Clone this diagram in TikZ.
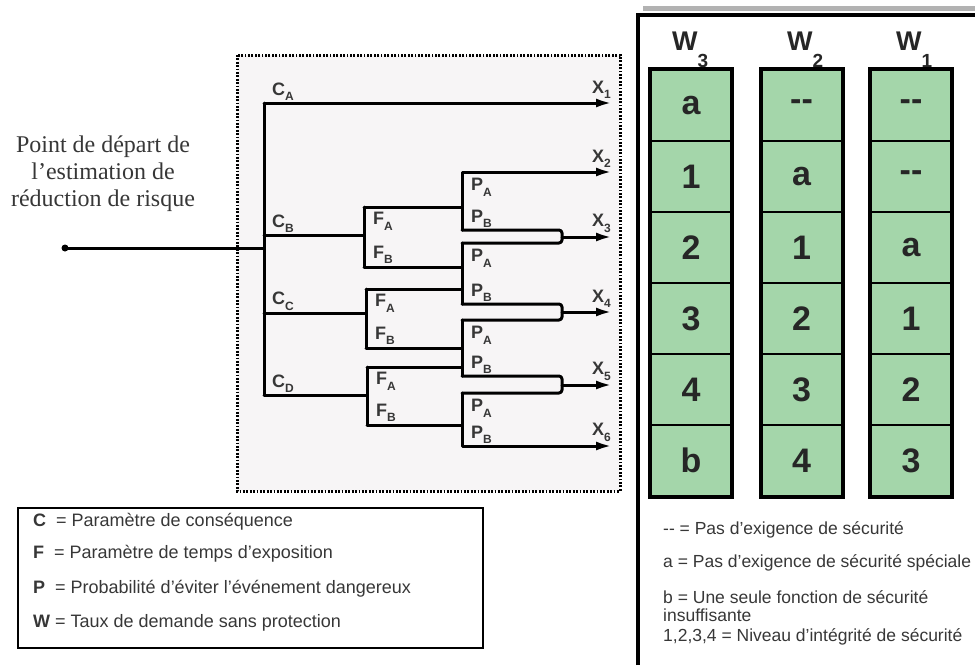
\documentclass[tikz,border=0pt]{standalone}
\usepackage{fontspec}
\setmainfont{Liberation Serif}
\setsansfont{Liberation Sans}
\usetikzlibrary{arrows.meta,positioning}
\definecolor{cellgreen}{RGB}{164,214,170}
\definecolor{boxgray}{RGB}{247,245,246}
\definecolor{txtgray}{RGB}{55,55,55}
\newcommand{\brsub}[2]{#1\raisebox{-0.6ex}{\fontsize{12}{12}\selectfont #2}}

\begin{document}
\begin{tikzpicture}[x=1pt,y=-1pt,
    branch/.style={line width=3pt,line cap=round,line join=round},
    outarrow/.style={branch,-{Latex[length=16pt,width=9pt]}},
    blbl/.style={font=\sffamily\bfseries\fontsize{18}{18}\selectfont,text=txtgray,inner sep=0pt},
    cell/.style={draw,line width=2pt,fill=cellgreen,minimum width=80pt,minimum height=71pt,
      inner sep=0pt,font=\sffamily\bfseries\fontsize{34}{34}\selectfont,text=black!85},
    whead/.style={font=\sffamily\bfseries\fontsize{27}{27}\selectfont,text=black!85,inner sep=0pt,anchor=base west},
    legtxt/.style={font=\sffamily\fontsize{17.5}{18}\selectfont,text=txtgray,anchor=west,inner sep=0pt,align=left}]
  \useasboundingbox (0,0) rectangle (975,665);

  % risk graph
  \draw[fill=boxgray,line width=3pt,dash pattern=on 1.8pt off 1.6pt] (237,55) rectangle (620,491);
  \node[align=center,font=\fontsize{24}{27}\selectfont,text=txtgray] (start-txt) at (103,174)
    {Point de départ de\\l’estimation de\\réduction de risque};

  \coordinate (start) at (65,248);
  \coordinate (tj) at (264,248);
  \coordinate (ca) at (264,103);
  \coordinate (cb) at (264,235);
  \coordinate (cc) at (264,313);
  \coordinate (cd) at (264,395);
  \coordinate (fb) at (364,235); \coordinate (fb-a) at (364,207); \coordinate (fb-b) at (364,267);
  \coordinate (fc) at (366,313); \coordinate (fc-a) at (366,289); \coordinate (fc-b) at (366,348);
  \coordinate (fd) at (367,395); \coordinate (fd-a) at (367,367); \coordinate (fd-b) at (367,425);
  \coordinate (p1-a) at (462,172); \coordinate (p1-b) at (462,230);
  \coordinate (p2-a) at (462,243); \coordinate (p2-b) at (462,304);
  \coordinate (p3-a) at (462,320); \coordinate (p3-b) at (462,376);
  \coordinate (p4-a) at (462,393); \coordinate (p4-b) at (462,446);
  \coordinate (m1) at (562,237); \coordinate (m1-t) at (562,230); \coordinate (m1-b) at (562,243);
  \coordinate (m2) at (562,312); \coordinate (m2-t) at (562,304); \coordinate (m2-b) at (562,320);
  \coordinate (m3) at (562,385); \coordinate (m3-t) at (562,376); \coordinate (m3-b) at (562,393);
  \coordinate (x1) at (612,103); \coordinate (x2) at (612,172); \coordinate (x3) at (612,237);
  \coordinate (x4) at (612,312); \coordinate (x5) at (612,385); \coordinate (x6) at (612,446);

  \draw[branch] (start) -- (tj);
  \fill (start) circle (3.5);
  \draw[branch] (ca) -- (cd);
  \draw[outarrow] (ca) -- (x1);
  \foreach \c/\f in {cb/fb,cc/fc,cd/fd} {
    \draw[branch] (\c) -- (\f);
    \draw[branch] (\f-a) -- (\f-b);
  }
  \foreach \f/\p in {fb-a/p1-a,fb-b/p2-a,fc-a/p2-a,fc-b/p3-a,fd-a/p3-a,fd-b/p4-a}
    \draw[branch] (\f) -- (\f -| \p);
  \draw[outarrow] (p1-b) -- (p1-a) -- (x2);
  \draw[branch] (p2-a) -- (p2-b);
  \draw[branch] (p3-a) -- (p3-b);
  \draw[outarrow] (p4-a) -- (p4-b) -- (x6);
  \foreach \m/\u/\d/\x in {m1/p1-b/p2-a/x3,m2/p2-b/p3-a/x4,m3/p3-b/p4-a/x5} {
    \draw[branch,rounded corners=3pt] (\u) -- (\m-t) -- (\m-b) -- (\d);
    \draw[outarrow] (\m) -- (\x);
  }

  % labels
  \foreach \c/\s in {ca/A,cb/B,cc/C,cd/D}
    \node[blbl,above right=2pt and 8pt of \c] (l-\c) {\brsub{C}{\s}};
  \foreach \f in {fb,fc,fd} {
    \node[blbl,below right=5pt and 9pt of \f-a] (l-\f-a) {\brsub{F}{A}};
    \node[blbl,above right=3pt and 9pt of \f-b] (l-\f-b) {\brsub{F}{B}};
  }
  \foreach \p in {p1,p2,p3,p4} {
    \node[blbl,below right=6pt and 9pt of \p-a] (l-\p-a) {\brsub{P}{A}};
    \node[blbl,above right=2pt and 9pt of \p-b] (l-\p-b) {\brsub{P}{B}};
  }
  \foreach \i in {1,...,6}
    \node[blbl,above left=4pt and 1pt of x\i] (l-x\i) {\brsub{X}{\i}};

  % legend left
  \draw[line width=2.5pt] (18,508) rectangle (483,648);
  \foreach \n/\y/\t in {c/522/{\textbf{C}\ \ = Paramètre de conséquence},
      f/554/{\textbf{F}\ \ = Paramètre de temps d’exposition},
      p/589/{\textbf{P}\ \ = Probabilité d’éviter l’événement dangereux},
      w/623/{\textbf{W} = Taux de demande sans protection}}
    \node[legtxt,font=\sffamily\fontsize{18}{18}\selectfont] (leg-\n) at (33,\y) {\t};

  % W table
  \draw[line width=5pt,black!30] (643,8) -- (975,8);
  \draw[line width=4pt] (638,665) -- (638,15) -- (975,15);
  \foreach \cx/\w/\vals in {691/3/{a,1,2,3,4,b},801.5/2/{-{}-,a,1,2,3,4},911/1/{-{}-,-{}-,a,1,2,3}} {
    \foreach \v [count=\r] in \vals
      \node[cell] (w\w-\r) at (\cx,{34.5+71*\r}) {\v};
    \draw[line width=4pt] (w\w-1.north west) rectangle (w\w-6.south east);
  }
  \node[whead] (h3) at (672,50) {W\raisebox{-17pt}{\fontsize{19}{19}\selectfont 3}};
  \node[whead] (h2) at (787,50) {W\raisebox{-17pt}{\fontsize{19}{19}\selectfont 2}};
  \node[whead] (h1) at (896,50) {W\raisebox{-17pt}{\fontsize{19}{19}\selectfont 1}};

  % legend right
  \node[legtxt] (leg-n) at (663,530) {-{}- = Pas d’exigence de sécurité};
  \node[legtxt] (leg-a) at (663,563) {a = Pas d’exigence de sécurité spéciale};
  \node[legtxt] (leg-b) at (663,606) {b = Une seule fonction de sécurité\\insuffisante};
  \node[legtxt] (leg-s) at (663,637) {1,2,3,4 = Niveau d’intégrité de sécurité};
\end{tikzpicture}
\end{document}
